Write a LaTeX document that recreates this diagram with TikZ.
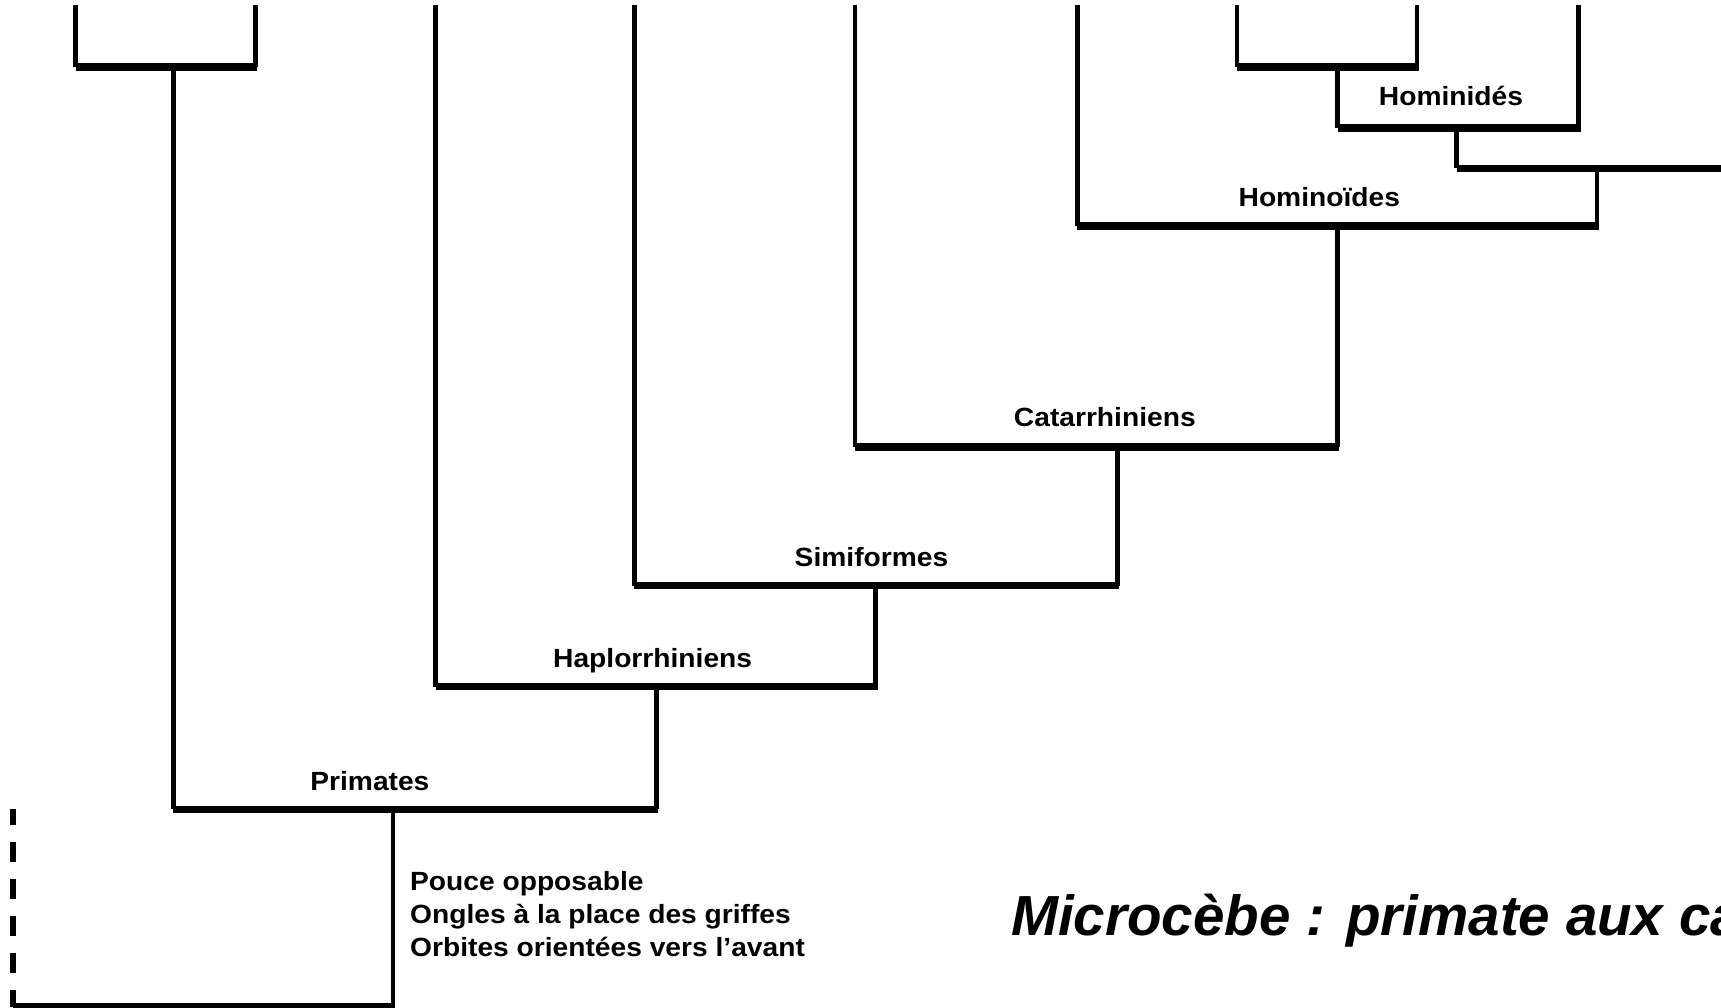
\documentclass[tikz,border=0pt]{standalone}
\usepackage{fontspec}
\setmainfont{Liberation Sans}
\newfontfamily\lblfont[FakeStretch=1.07]{Liberation Sans}
\begin{document}
\begin{tikzpicture}[x=1pt,y=-1pt,
  vline/.style={line width=4.4pt},
  hbar/.style={line width=7pt, shorten >=-1.5pt},
  dline/.style={line width=5pt, dash pattern=on 18.2pt off 15.5pt, dash phase=4.2pt},
  clade/.style={font=\lblfont\bfseries\fontsize{24}{28}\selectfont, anchor=base, inner sep=0pt},
  trait/.style={font=\lblfont\bfseries\fontsize{24}{28}\selectfont, anchor=base west, inner sep=0pt},
  titlestyle/.style={font=\bfseries\itshape\fontsize{51.5}{60}\selectfont, anchor=base west, inner sep=0pt}]
\useasboundingbox (0,0) rectangle (1568,918);
\clip (0,0) rectangle (1568,918);
\fill[white] (0,0) rectangle (1568,918);

% --- coordinates: tips (top) ---
\coordinate (t1) at (69,4.3);
\coordinate (t2) at (233,4.3);
\coordinate (t3) at (397,4.3);
\coordinate (t4) at (578,4.3);
\coordinate (t5) at (779,4.3);
\coordinate (t6) at (981.6,4.3);
\coordinate (t7) at (1127,4.3);
\coordinate (t8) at (1291,4.3);
\coordinate (t9) at (1438.5,4.3);
\coordinate (redge) at (1568,153.5);

% --- junction coordinates ---
\coordinate (b1L) at (69,61);
\coordinate (b1R) at (233,61);
\coordinate (b1S) at (158,61);
\coordinate (b2L) at (1127,61);
\coordinate (b2R) at (1291,61);
\coordinate (b2S) at (1218.6,61);
\coordinate (hmdL) at (1218.6,116.6);
\coordinate (hmdR) at (1438.5,116.6);
\coordinate (hmdS) at (1327,116.6);
\coordinate (rL) at (1327,153.5);
\coordinate (rS) at (1455,153.5);
\coordinate (homL) at (981.6,206);
\coordinate (homR) at (1455,206);
\coordinate (homS) at (1218.6,206);
\coordinate (catL) at (779,407.5);
\coordinate (catR) at (1218.6,407.5);
\coordinate (catS) at (1018,407.5);
\coordinate (simL) at (578,533.5);
\coordinate (simR) at (1018,533.5);
\coordinate (simS) at (798,533.5);
\coordinate (hapL) at (397,625.5);
\coordinate (hapR) at (798,625.5);
\coordinate (hapS) at (598,625.5);
\coordinate (priL) at (158,737.4);
\coordinate (priR) at (598,737.4);
\coordinate (priS) at (358,737.4);
\coordinate (dTop) at (12,737.4);
\coordinate (botL) at (12,917.5);
\coordinate (botR) at (358,917.5);

% --- vertical branches ---
\draw[vline] (t1) -- (b1L);
\draw[vline] (t2) -- (b1R);
\draw[vline] (t7) -- (b2L);
\draw[vline] (t8) -- (b2R);
\draw[vline] (t9) -- (hmdR);
\draw[vline] (b2S) -- (hmdL);
\draw[vline] (hmdS) -- (rL);
\draw[vline] (rS) -- (homR);
\draw[vline] (t6) -- (homL);
\draw[vline] (homS) -- (catR);
\draw[vline] (t5) -- (catL);
\draw[vline] (catS) -- (simR);
\draw[vline] (t4) -- (simL);
\draw[vline] (simS) -- (hapR);
\draw[vline] (t3) -- (hapL);
\draw[vline] (hapS) -- (priR);
\draw[vline] (b1S) -- (priL);
\draw[vline] (priS) -- (botR);
\draw[dline] (dTop) -- (botL);

% --- horizontal bars ---
\draw[hbar] (b1L) -- (b1R);
\draw[hbar] (b2L) -- (b2R);
\draw[hbar] (hmdL) -- (hmdR);
\draw[hbar] (rL) -- (redge);
\draw[hbar] (homL) -- (homR);
\draw[hbar] (catL) -- (catR);
\draw[hbar] (simL) -- (simR);
\draw[hbar] (hapL) -- (hapR);
\draw[hbar] (priL) -- (priR);
\draw[hbar] (botL) -- (botR);

% --- labels ---
\node[clade] (lhmd) at (1322,96) {Hominidés};
\node[clade] (lhom) at (1202,188) {Hominoïdes};
\node[clade] (lcat) at (1006.6,389) {Catarrhiniens};
\node[clade] (lsim) at (794,516) {Simiformes};
\node[clade] (lhap) at (594.6,608.5) {Haplorrhiniens};
\node[clade] (lpri) at (337,720.4) {Primates};

\node[trait] (tr1) at (373.5,811.5) {Pouce opposable};
\node[trait] (tr2) at (373.5,841.5) {Ongles à la place des griffes};
\node[trait] (tr3) at (373.5,871.5) {Orbites orientées vers l’avant};

\node[titlestyle] (title) at (921,852) {Microcèbe : primate aux ca};
\end{tikzpicture}
\end{document}
